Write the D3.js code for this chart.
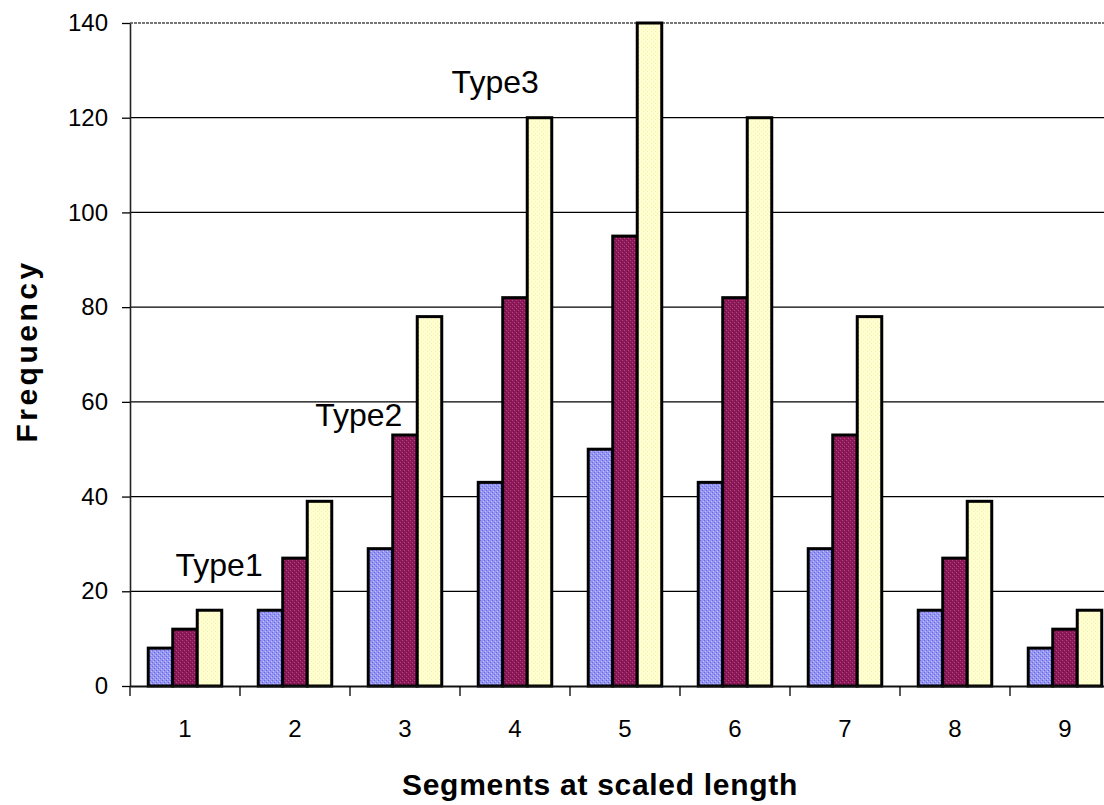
<!DOCTYPE html>
<html>
<head>
<meta charset="utf-8">
<script src="https://cdn.jsdelivr.net/npm/d3@7"></script>
<style>
  body { margin: 0; background: #fff; }
  svg { display: block; font-family: "Liberation Sans", Arial, sans-serif; }
</style>
</head>
<body>
<div id="container"><svg></svg></div>
<script>
let width = 1104
let height = 805

// data
let categories = ['1', '2', '3', '4', '5', '6', '7', '8', '9']
let seriesNames = ['Type1', 'Type2', 'Type3']
let type1 = [8, 16, 29, 43, 50, 43, 29, 16, 8]
let type2 = [12, 27, 53, 82, 95, 82, 53, 27, 12]
let type3 = [16, 39, 78, 120, 140, 120, 78, 39, 16]
let yTicks = [0, 20, 40, 60, 80, 100, 120, 140]

// annotation anchors: category, fraction across the slot, value
let labelCats = ['1', '3', '4']
let labelFracs = [0.81, 0.08, 0.32]
let labelValues = [23.2, 54.9, 125.2]

let fills = ['url(#pat1)', 'url(#pat2)', 'url(#pat3)']

let padding = { left: 130, top: 23, right: -16, bottom: 119 }

function draw_main() {
    let svg = d3.select('#container').select('svg')
        .attr('width', width)
        .attr('height', height)

    // dithered fills like the old bitmap
    let defs = svg.append('defs')
    let pat = (id, base, dot, alt) => {
        let p = defs.append('pattern').attr('id', id)
            .attr('width', 4).attr('height', 4)
            .attr('patternUnits', 'userSpaceOnUse')
        p.append('rect').attr('width', 4).attr('height', 4).attr('fill', base)
        p.append('rect').attr('x', 0).attr('y', 0).attr('width', 1).attr('height', 1).attr('fill', dot)
        p.append('rect').attr('x', 2).attr('y', 2).attr('width', 1).attr('height', 1).attr('fill', dot)
        p.append('rect').attr('x', 1).attr('y', 3).attr('width', 1).attr('height', 1).attr('fill', alt)
        p.append('rect').attr('x', 3).attr('y', 1).attr('width', 1).attr('height', 1).attr('fill', alt)
    }
    pat('pat1', '#9494f2', '#6a6ade', '#c0c0ff')
    pat('pat2', '#8c1a58', '#b84488', '#7a104a')
    pat('pat3', '#ffffcc', '#fffbe2', '#f6f2bc')

    let x = d3.scaleBand()
        .domain(categories)
        .range([padding.left, width - padding.right])
        .padding(0)
    let xs = d3.scaleBand()
        .domain(seriesNames)
        .range([0, x.bandwidth()])
        .paddingInner(0)
        .paddingOuter(0.745)
    let y = d3.scaleLinear()
        .domain([0, 140])
        .range([height - padding.bottom, padding.top])

    // gridlines
    svg.append('g')
        .selectAll('line')
        .data(yTicks.filter(d => d > 0 && d < 140))
        .enter().append('line')
        .attr('x1', padding.left).attr('x2', width - padding.right)
        .attr('y1', d => y(d)).attr('y2', d => y(d))
        .attr('stroke', '#000').attr('stroke-width', 1.3)
    svg.append('line')
        .attr('x1', padding.left).attr('x2', width - padding.right)
        .attr('y1', y(140)).attr('y2', y(140))
        .attr('stroke', '#777').attr('stroke-width', 2.2)
        .attr('stroke-dasharray', '3,1')

    // bars
    let table = categories.map((c, i) => ({ cat: c, vals: [type1[i], type2[i], type3[i]] }))
    let groups = svg.append('g')
        .selectAll('g')
        .data(table)
        .enter().append('g')
        .attr('transform', d => `translate(${x(d.cat)}, 0)`)
    groups.selectAll('rect')
        .data(d => d.vals.map((v, k) => ({ v: v, k: k })))
        .enter().append('rect')
        .attr('x', d => xs(seriesNames[d.k]))
        .attr('y', d => y(d.v))
        .attr('width', xs.bandwidth())
        .attr('height', d => y(0) - y(d.v))
        .attr('fill', d => fills[d.k])
        .attr('stroke', '#000')
        .attr('stroke-width', 3)

    // y axis
    let axis_y = d3.axisLeft(y)
        .tickValues(yTicks)
        .tickSize(8)
        .tickPadding(14)
        .tickSizeOuter(0)
    let gy = svg.append('g')
        .attr('transform', `translate(${padding.left}, 0)`)
        .call(axis_y)
        .attr('font-family', '"Liberation Sans", Arial, sans-serif')
        .attr('font-size', '24px')
    gy.select('.domain').attr('stroke', '#222').attr('stroke-width', 1.6)
    gy.selectAll('.tick line').attr('stroke', '#000').attr('stroke-width', 1.3)
    gy.selectAll('.tick text').attr('fill', '#000')

    // x axis: labels at slot centres, ticks at slot edges
    let axis_x = d3.axisBottom(x)
        .tickSize(0)
        .tickPadding(34)
        .tickSizeOuter(0)
    let gx = svg.append('g')
        .attr('transform', `translate(0, ${y(0)})`)
        .call(axis_x)
        .attr('font-family', '"Liberation Sans", Arial, sans-serif')
        .attr('font-size', '24px')
    gx.select('.domain').attr('stroke', '#111').attr('stroke-width', 2)
    gx.selectAll('.tick text').attr('fill', '#000')
    gx.append('g')
        .selectAll('line')
        .data(categories)
        .enter().append('line')
        .attr('x1', d => x(d)).attr('x2', d => x(d))
        .attr('y1', 0).attr('y2', 10)
        .attr('stroke', '#000').attr('stroke-width', 1.3)

    // series annotations
    svg.append('g')
        .selectAll('text')
        .data(seriesNames)
        .enter().append('text')
        .attr('x', (d, i) => x(labelCats[i]) + labelFracs[i] * x.bandwidth())
        .attr('y', (d, i) => y(labelValues[i]))
        .attr('text-anchor', 'middle')
        .attr('font-size', '32px')
        .attr('fill', '#000')
        .text(d => d)

    // axis titles
    svg.append('text')
        .attr('x', 600)
        .attr('y', 795)
        .attr('text-anchor', 'middle')
        .attr('font-size', '30px')
        .attr('font-weight', 'bold')
        .attr('letter-spacing', '0.7px')
        .text('Segments at scaled length')

    svg.append('g')
        .attr('transform', `translate(37, 351) rotate(-90)`)
        .append('text')
        .attr('text-anchor', 'middle')
        .attr('font-size', '30px')
        .attr('font-weight', 'bold')
        .attr('letter-spacing', '3.5px')
        .text('Frequency')
}

draw_main()
</script>
</body>
</html>
